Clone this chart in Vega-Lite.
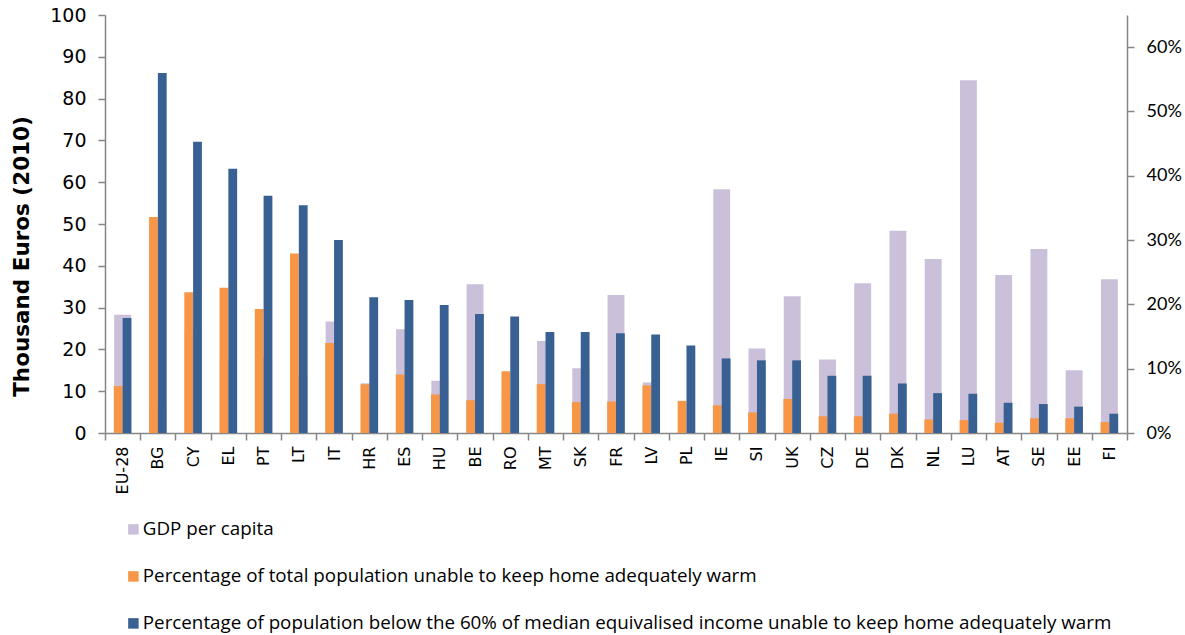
{
  "$schema": "https://vega.github.io/schema/vega-lite/v6.json",
  "width": 1022,
  "height": 418,
  "autosize": {"type": "none"},
  "padding": {"left": 105, "top": 15, "right": 58, "bottom": 202},
  "background": "white",
  "config": {
    "view": {"stroke": null},
    "axis": {
      "grid": false,
      "domainColor": "#868686",
      "tickColor": "#868686",
      "domainWidth": 1.5,
      "tickWidth": 1.5,
      "tickSize": 7,
      "labelColor": "#000000"
    }
  },
  "data": {
    "values": [
      {"c": "EU-28", "gdp": 28.3, "warm_total": 0.073, "warm_poor": 0.179},
      {"c": "BG", "gdp": 6.4, "warm_total": 0.336, "warm_poor": 0.56},
      {"c": "CY", "gdp": 23.9, "warm_total": 0.219, "warm_poor": 0.453},
      {"c": "EL", "gdp": 17.6, "warm_total": 0.226, "warm_poor": 0.411},
      {"c": "PT", "gdp": 18.1, "warm_total": 0.193, "warm_poor": 0.369},
      {"c": "LT", "gdp": 13.2, "warm_total": 0.279, "warm_poor": 0.354},
      {"c": "IT", "gdp": 26.7, "warm_total": 0.14, "warm_poor": 0.3},
      {"c": "HR", "gdp": 11.9, "warm_total": 0.076, "warm_poor": 0.211},
      {"c": "ES", "gdp": 24.8, "warm_total": 0.091, "warm_poor": 0.207},
      {"c": "HU", "gdp": 12.5, "warm_total": 0.06, "warm_poor": 0.199},
      {"c": "BE", "gdp": 35.6, "warm_total": 0.051, "warm_poor": 0.185},
      {"c": "RO", "gdp": 8.7, "warm_total": 0.096, "warm_poor": 0.181},
      {"c": "MT", "gdp": 22.0, "warm_total": 0.076, "warm_poor": 0.157},
      {"c": "SK", "gdp": 15.5, "warm_total": 0.048, "warm_poor": 0.157},
      {"c": "FR", "gdp": 33.0, "warm_total": 0.049, "warm_poor": 0.155},
      {"c": "LV", "gdp": 12.1, "warm_total": 0.074, "warm_poor": 0.153},
      {"c": "PL", "gdp": null, "warm_total": 0.05, "warm_poor": 0.136},
      {"c": "IE", "gdp": 58.3, "warm_total": 0.043, "warm_poor": 0.116},
      {"c": "SI", "gdp": 20.2, "warm_total": 0.032, "warm_poor": 0.113},
      {"c": "UK", "gdp": 32.7, "warm_total": 0.053, "warm_poor": 0.113},
      {"c": "CZ", "gdp": 17.6, "warm_total": 0.026, "warm_poor": 0.089},
      {"c": "DE", "gdp": 35.8, "warm_total": 0.026, "warm_poor": 0.089},
      {"c": "DK", "gdp": 48.4, "warm_total": 0.03, "warm_poor": 0.077},
      {"c": "NL", "gdp": 41.6, "warm_total": 0.021, "warm_poor": 0.062},
      {"c": "LU", "gdp": 84.4, "warm_total": 0.02, "warm_poor": 0.061},
      {"c": "AT", "gdp": 37.8, "warm_total": 0.016, "warm_poor": 0.047},
      {"c": "SE", "gdp": 44.0, "warm_total": 0.023, "warm_poor": 0.045},
      {"c": "EE", "gdp": 15.0, "warm_total": 0.023, "warm_poor": 0.041},
      {"c": "FI", "gdp": 36.8, "warm_total": 0.017, "warm_poor": 0.03}
    ]
  },
  "encoding": {
    "x": {
      "field": "c",
      "type": "nominal",
      "sort": null,
      "scale": {
        "domain": ["EU-28", "BG", "CY", "EL", "PT", "LT", "IT", "HR", "ES", "HU", "BE", "RO", "MT", "SK", "FR", "LV", "PL", "IE", "SI", "UK", "CZ", "DE", "DK", "NL", "LU", "AT", "SE", "EE", "FI"],
        "paddingInner": 0,
        "paddingOuter": 0
      },
      "axis": {
        "title": null,
        "labelAngle": -90,
        "labelFont": "DejaVu Sans",
        "labelFontSize": 16,
        "labelPadding": 6,
        "tickBand": "extent"
      }
    }
  },
  "layer": [
    {
      "mark": {"type": "bar", "width": {"band": 0.48}},
      "encoding": {
        "y": {
          "field": "gdp",
          "type": "quantitative",
          "scale": {"domain": [0, 100], "nice": false},
          "axis": {
            "title": "Thousand Euros (2010)",
            "titleFont": "DejaVu Sans",
            "titleFontSize": 21.5,
            "titleFontWeight": "bold",
            "titleColor": "#000000",
            "titleAngle": -90,
            "titleX": -83,
            "titleY": 241,
            "titleAlign": "center",
            "titleBaseline": "middle",
            "values": [0, 10, 20, 30, 40, 50, 60, 70, 80, 90, 100],
            "labelFont": "DejaVu Sans",
            "labelFontSize": 19,
            "labelPadding": 12
          }
        },
        "color": {
          "datum": "gdp",
          "type": "nominal",
          "title": null,
          "scale": {
            "domain": ["gdp", "warm_total", "warm_poor"],
            "range": ["#CBC0DA", "#F79646", "#386092"]
          },
          "legend": {
            "title": null,
            "orient": "none",
            "direction": "vertical",
            "legendX": 19,
            "legendY": 505,
            "padding": 0,
            "symbolType": "square",
            "symbolSize": 110,
            "symbolStrokeWidth": 0,
            "labelFont": "Open Sans",
            "labelFontSize": 18.8,
            "labelColor": "#000000",
            "labelOffset": 0,
            "labelLimit": 1100,
            "rowPadding": 27,
            "labelExpr": "datum.label == 'gdp' ? 'GDP per capita' : datum.label == 'warm_total' ? 'Percentage of total population unable to keep home adequately warm' : 'Percentage of population below the 60% of median equivalised income unable to keep home adequately warm'"
          }
        }
      }
    },
    {
      "transform": [{"fold": ["warm_total", "warm_poor"], "as": ["series", "pct"]}],
      "mark": {"type": "bar"},
      "encoding": {
        "y": {
          "field": "pct",
          "type": "quantitative",
          "scale": {"domain": [0, 0.65], "nice": false},
          "axis": {
            "orient": "right",
            "title": null,
            "format": "%",
            "values": [0, 0.1, 0.2, 0.3, 0.4, 0.5, 0.6],
            "labelFont": "Lato",
            "labelFontSize": 18,
            "labelPadding": 12
          }
        },
        "xOffset": {
          "field": "series",
          "type": "nominal",
          "sort": ["warm_total", "warm_poor"],
          "scale": {"domain": ["warm_total", "warm_poor"], "paddingInner": 0, "paddingOuter": 2.3}
        },
        "color": {"field": "series", "type": "nominal", "title": null}
      }
    }
  ],
  "resolve": {"scale": {"y": "independent"}}
}
